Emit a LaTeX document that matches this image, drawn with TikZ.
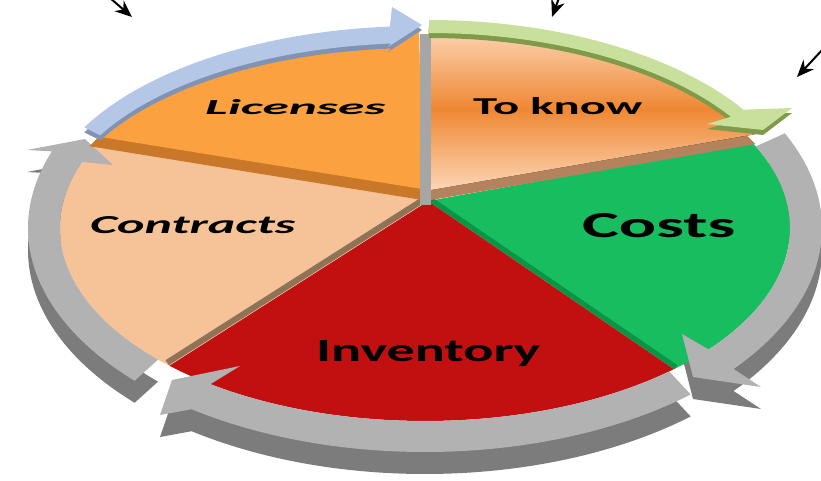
\documentclass[tikz,border=0pt]{standalone}
\usepackage{fontspec}
\setmainfont{Carlito}
\usepackage{graphicx}
\usepackage{tikz}
\usetikzlibrary{calc,arrows.meta}
\definecolor{ringtop}{HTML}{B2B2B2}
\definecolor{ringside}{HTML}{7C7C7C}
\definecolor{bluetop}{HTML}{B5C7E6}
\definecolor{blueside}{HTML}{8193B5}
\definecolor{greentop}{HTML}{C8E09C}
\definecolor{greenside}{HTML}{7F9A48}
\definecolor{licensetop}{HTML}{FBA13F}
\definecolor{licenseside}{HTML}{C97829}
\definecolor{knowlight}{HTML}{FCD6B6}
\definecolor{knowdark}{HTML}{EF8733}
\definecolor{knowside}{HTML}{B4835E}
\definecolor{contractfill}{HTML}{F6C398}
\definecolor{contractedge}{HTML}{8F7357}
\definecolor{costfill}{HTML}{17BD5F}
\definecolor{costedge}{HTML}{0A9446}
\definecolor{inventoryfill}{HTML}{C21010}
\definecolor{divider}{HTML}{A6A6A6}
% the three grey ring arrows, filled with the current colour
\newcommand{\ringarrows}{%
  \fill ($(425,228)+(335:397 and 224)$) arc[start angle=335,end angle=399,x radius=397,y radius=224]
    -- (761,387) -- (693,377) -- (682,334)
    -- ($(425,228)+(399:365 and 193)$) arc[start angle=399,end angle=335,x radius=365,y radius=193] -- cycle;
  \fill ($(425,228)+(48:397 and 224)$) arc[start angle=48,end angle=126,x radius=397,y radius=224]
    -- (160,415) -- (172,380) -- (240,366)
    -- ($(425,228)+(126:365 and 193)$) arc[start angle=126,end angle=48,x radius=365,y radius=193] -- cycle;
  \fill ($(425,228)+(137:397 and 224)$) arc[start angle=137,end angle=200,x radius=397,y radius=224]
    -- (27,150) -- (85,139) -- (113,165)
    -- ($(425,228)+(200:365 and 193)$) arc[start angle=200,end angle=137,x radius=365,y radius=193] -- cycle;}

\begin{document}
\begin{tikzpicture}[x=1pt,y=-1pt,
  slicetext/.style={inner sep=0pt,anchor=base west,text=black},
  pointer/.style={line width=2pt,-{Stealth[length=17pt,width=14pt]}}]
\useasboundingbox (0,0) rectangle (821,481);
\coordinate (C) at (425,228);
\coordinate (P) at (428,201);
% sides of the ring
\begin{scope}[shift={(0,22)},fill=ringside]
\ringarrows
\end{scope}
% lower slices
\fill[costfill] (P) -- ($(C)+(333.8:365 and 193)$) arc[start angle=333.8,end angle=407,x radius=365,y radius=193] -- cycle;
\fill[inventoryfill] (P) -- ($(C)+(47:365 and 193)$) arc[start angle=47,end angle=134.5,x radius=365,y radius=193] -- cycle;
\fill[contractfill] (P) -- ($(C)+(134.5:365 and 193)$) arc[start angle=134.5,end angle=205.5,x radius=365,y radius=193] -- cycle;
\draw[costedge,line width=5pt] ($(P)+(2,-2)$) -- ($(C)+(47:365 and 193)+(2,-2)$);
\draw[contractedge,line width=6pt] ($(P)+(-2,-3)$) -- ($(C)+(134.5:365 and 193)+(-2,-3)$);
% top of the ring
\begin{scope}[fill=ringtop]
\ringarrows
\end{scope}
% raised slices
\fill[licenseside] (422,200) -- ($(419,228)+(205.5:365 and 190)$) arc[start angle=205.5,end angle=270,x radius=365,y radius=190] -- cycle;
\fill[licensetop] (422,189) -- ($(419,217)+(205.5:365 and 190)$) arc[start angle=205.5,end angle=270,x radius=365,y radius=190] -- cycle;
\fill[knowside] (431,200) -- ($(428,228)+(333.8:365 and 190)$) arc[start angle=333.8,end angle=270,x radius=365,y radius=190] -- cycle;
\fill[top color=knowlight,bottom color=knowlight,middle color=knowdark] (431,190) -- ($(428,218)+(333.8:365 and 190)$) arc[start angle=333.8,end angle=270,x radius=365,y radius=190] -- cycle;
\fill[divider] (420,34) rectangle (431,205);
% blue and green arrows
\foreach \dy/\col in {5/blueside,0/bluetop}{
  \fill[\col,shift={(0,\dy)}] ($(419,217)+(208:379 and 191)$) arc[start angle=208,end angle=265.6,x radius=379,y radius=191]
    -- (392,7) -- (422,25) -- (388,47)
    -- ($(419,217)+(265.6:361 and 174)$) arc[start angle=265.6,end angle=208,x radius=361,y radius=174] -- cycle;
}
\foreach \dy/\col in {5/greenside,0/greentop}{
  \fill[\col,shift={(0,\dy)}] ($(429,217)+(270:375 and 197)$) arc[start angle=270,end angle=327,x radius=375,y radius=197]
    -- (792,108) -- (763,130) -- (707,124)
    -- ($(429,217)+(327:360 and 184)$) arc[start angle=327,end angle=270,x radius=360,y radius=184] -- cycle;
}
% labels
\node[slicetext] (licenses) at (205,115) {\resizebox{180pt}{15pt}{\bfseries\itshape Licenses}};
\node[slicetext] (toknow) at (473,115) {\resizebox{169pt}{17pt}{\bfseries To know}};
\node[slicetext] (contracts) at (90,233) {\resizebox{205pt}{17pt}{\bfseries\itshape Contracts}};
\node[slicetext] (costs) at (582,237) {\resizebox{153pt}{24pt}{\bfseries Costs}};
\node[slicetext] (inventory) at (316,361) {\resizebox{224pt}{21pt}{\bfseries Inventory}};
% pointers at the top
\coordinate (p1) at (110,-2);
\coordinate (q1) at (132,17);
\coordinate (p2) at (559,-2);
\coordinate (q2) at (552,17);
\coordinate (p3) at (823,49);
\coordinate (q3) at (797,77);
\draw[pointer] (p1) -- (q1);
\draw[pointer] (p2) -- (q2);
\draw[pointer] (p3) -- (q3);
\end{tikzpicture}
\end{document}
